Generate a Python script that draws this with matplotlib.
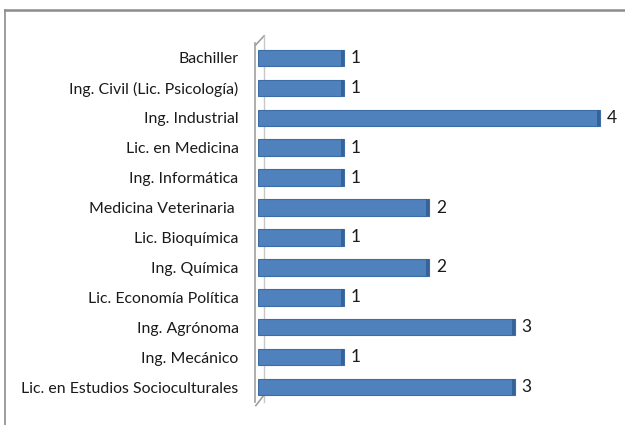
import matplotlib
matplotlib.use("Agg")
import matplotlib.pyplot as plt
from matplotlib.lines import Line2D

categories = ["Bachiller", "Ing. Civil (Lic. Psicología)", "Ing. Industrial",
              "Lic. en Medicina", "Ing. Informática", "Medicina Veterinaria ",
              "Lic. Bioquímica", "Ing. Química", "Lic. Economía Política",
              "Ing. Agrónoma", "Ing. Mecánico", "Lic. en Estudios Socioculturales"]
values = [1, 1, 4, 1, 1, 2, 1, 2, 1, 3, 1, 3]

plt.rcParams['font.family'] = ['Lato', 'DejaVu Sans']

fig = plt.figure(figsize=(6.25, 4.25), dpi=100)
ax = fig.add_axes([258/625, 1-402/425, (619-258)/625, (402-43)/425])

ypos = list(range(len(categories)))
ax.barh(ypos, values, height=0.55, color="#4F81BD", edgecolor="#3E6DA6", linewidth=0.8, zorder=3)
# 3D-like darker end cap
ax.barh(ypos, [0.03]*len(values), left=[v - 0.03 for v in values], height=0.55,
        color="#36629A", linewidth=0, zorder=4)

for y, v in zip(ypos, values):
    ax.annotate(str(v), (v, y), xytext=(5, 0), textcoords="offset points",
                va="center", ha="left", fontsize=12.5, color="#1A1A1A")

ax.set_xlim(0, 361/85.5)
ax.set_ylim(len(categories)-0.5, -0.5)
ax.set_yticks(ypos)
ax.set_yticklabels(categories)
ax.tick_params(axis="y", length=0, pad=12, labelsize=11.4, labelcolor="#1A1A1A")
ax.set_xticks([])
for s in ["top", "right", "bottom"]:
    ax.spines[s].set_visible(False)
ax.spines["left"].set_color("#A0A0A0")
ax.spines["left"].set_linewidth(1.2)
ax.spines["left"].set_position(("outward", 2))

# 3D wall decoration
ax.add_line(Line2D([-0.006, 0.017], [0.995, 1.02], transform=ax.transAxes, color="#A0A0A0", lw=1.2, clip_on=False))
ax.add_line(Line2D([0.017, 0.017], [1.02, -0.0], transform=ax.transAxes, color="#C8C8C8", lw=1.0, clip_on=False))
ax.add_line(Line2D([-0.006, 0.017], [-0.01, 0.02], transform=ax.transAxes, color="#A0A0A0", lw=1.2, clip_on=False))

# outer frame
fig.add_artist(Line2D([5/625, 1], [1-10/425, 1-10/425], color="#8C8C8C", lw=1.8))
fig.add_artist(Line2D([5/625, 5/625], [0, 1-10/425], color="#8C8C8C", lw=1.2))

fig.savefig("out.png", dpi=100)
